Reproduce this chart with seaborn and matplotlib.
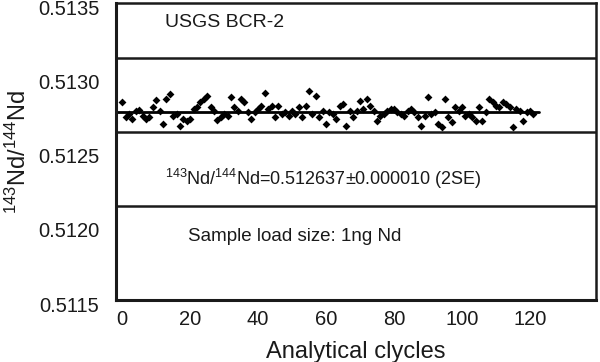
import numpy as np
import pandas as pd
import seaborn as sns
import matplotlib
matplotlib.use("Agg")
import matplotlib.pyplot as plt
import matplotlib.transforms as mtransforms

# ======================
# data
# ======================
nd_ratio = [
    0.512831, 0.512730, 0.512752, 0.512719, 0.512775, 0.512779, 0.512741, 0.512719, 0.512730, 0.512797,
    0.512846, 0.512775, 0.512685, 0.512853, 0.512887, 0.512741, 0.512752, 0.512674, 0.512719, 0.512708,
    0.512719, 0.512786, 0.512797, 0.512831, 0.512853, 0.512876, 0.512797, 0.512775, 0.512712, 0.512730,
    0.512752, 0.512741, 0.512869, 0.512797, 0.512775, 0.512853, 0.512831, 0.512764, 0.512719, 0.512764,
    0.512786, 0.512808, 0.512891, 0.512786, 0.512808, 0.512730, 0.512808, 0.512752, 0.512764, 0.512741,
    0.512775, 0.512752, 0.512797, 0.512730, 0.512808, 0.512909, 0.512752, 0.512876, 0.512730, 0.512775,
    0.512685, 0.512764, 0.512752, 0.512719, 0.512808, 0.512820, 0.512674, 0.512775, 0.512730, 0.512775,
    0.512842, 0.512786, 0.512853, 0.512808, 0.512775, 0.512708, 0.512741, 0.512752, 0.512775, 0.512786,
    0.512786, 0.512764, 0.512752, 0.512741, 0.512775, 0.512786, 0.512764, 0.512730, 0.512674, 0.512741,
    0.512864, 0.512752, 0.512764, 0.512685, 0.512663, 0.512853, 0.512730, 0.512696, 0.512797, 0.512775,
    0.512797, 0.512741, 0.512752, 0.512730, 0.512708, 0.512797, 0.512708, 0.512764, 0.512853, 0.512831,
    0.512808, 0.512797, 0.512831, 0.512820, 0.512797, 0.512663, 0.512786, 0.512775, 0.512708, 0.512764,
    0.512775, 0.512752,
]
cycles = list(range(len(nd_ratio)))

mean_x = [-1.8, 122.5]
mean_y = [0.512768, 0.512768]

# panel separators
separators = [0.51313, 0.51263, 0.51213]

yticks = [0.5115, 0.5120, 0.5125, 0.5130, 0.5135]
ytick_labels = ["0.5115", "0.5120", "0.5125", "0.5130", "0.5135"]
xticks = [0, 20, 40, 60, 80, 100, 120]

df = pd.DataFrame({"cycle": cycles, "ratio": nd_ratio})

# ======================
# plotting
# ======================
sns.set_style("white")
plt.rcParams["font.family"] = ["Liberation Sans", "DejaVu Sans"]
plt.rcParams["mathtext.default"] = "regular"

fig = plt.figure(figsize=(6, 3.62), dpi=100)
ax = fig.add_axes([116 / 600, 1 - 300 / 362, 480 / 600, 297 / 362])

for yv in separators:
    ax.axhline(yv, color="#1a1a1a", lw=1.8, zorder=1)

sns.lineplot(x=mean_x, y=mean_y, color="black", lw=2, ax=ax, zorder=2)
sns.scatterplot(data=df, x="cycle", y="ratio", marker="D", color="black",
                s=16, edgecolor="black", linewidth=0, ax=ax, zorder=3)

ax.set_xlim(-1.8, 139.4)
ax.set_ylim(0.5115, 0.5135)
ax.set_yticks(yticks)
ax.set_yticklabels(ytick_labels)
ax.set_xticks(xticks)
ax.tick_params(axis="y", length=0, labelsize=14.5, pad=12, labelcolor="#1a1a1a")
ax.tick_params(axis="x", direction="in", length=4, width=1.5, labelsize=14.5,
               pad=7, labelcolor="#1a1a1a")
ax.xaxis.get_major_ticks()[0].tick1line.set_visible(False)

# labels in the original sit a little below their ticks
shift = mtransforms.ScaledTranslation(0, -3 / 72, fig.dpi_scale_trans)
for lab in ax.get_yticklabels():
    lab.set_transform(lab.get_transform() + shift)

for side in ["left", "bottom"]:
    ax.spines[side].set_linewidth(2.2)
for side in ["top", "right"]:
    ax.spines[side].set_linewidth(1.8)
for sp in ax.spines.values():
    sp.set_color("#1a1a1a")

ax.set_xlabel("Analytical clycles", fontsize=17, labelpad=9, color="#1a1a1a")
ax.set_ylabel(r"$^{143}$Nd/$^{144}$Nd", fontsize=17, labelpad=5, color="#1a1a1a")

ax.text(12.6, 0.51337, "USGS BCR-2", fontsize=14, va="center", color="#1a1a1a")
ax.text(12.6, 0.512317, r"$^{143}$Nd/$^{144}$Nd=0.512637±0.000010 (2SE)",
        fontsize=13, va="center", color="#1a1a1a")
ax.text(19.4, 0.511926, "Sample load size: 1ng Nd", fontsize=13.5, va="center",
        color="#1a1a1a")

fig.savefig("out.png", dpi=100)
